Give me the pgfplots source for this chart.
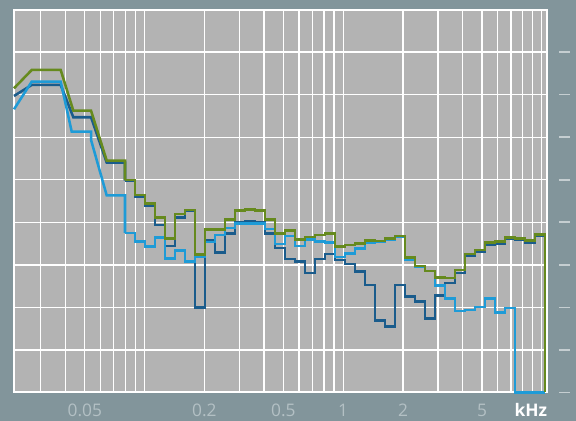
\documentclass[border=0pt]{standalone}
\usepackage{pgfplots}
\pgfplotsset{compat=1.18}
\usepackage{pgfplotstable}
\usepackage{fontspec}
\setmainfont{Open Sans}
\definecolor{outerbg}{HTML}{82959B}
\definecolor{plotbg}{HTML}{B3B3B3}
\definecolor{cgreen}{HTML}{668A1E}
\definecolor{cdblue}{HTML}{1A5C8C}
\definecolor{clblue}{HTML}{1E9BD7}
\definecolor{ticktext}{HTML}{B3C0C4}
\definecolor{dashcol}{HTML}{C5CED1}

% step part: 1/6-octave bands, value holds from f to next f
\pgfplotstableread{
f        green  dblue  lblue
0.07973  49.94  49.78  37.49
0.08953  46.42  46.02  35.44
0.10054  44.47  43.90  34.27
0.11290  41.08  39.37  36.48
0.12678  36.24  34.43  31.54
0.14236  41.95  41.18  33.42
0.15986  42.94  42.77  30.79
0.17951  32.48  20.02  31.96
0.20158  38.36  35.84  35.32
0.22636  38.36  32.86  37.02
0.25419  40.71  37.42  38.66
0.28543  42.73  40.07  39.77
0.32052  43.06  40.31  39.77
0.35992  42.73  40.00  39.77
0.40416  40.71  37.42  38.47
0.45384  37.42  33.96  34.90
0.50963  38.03  31.38  36.78
0.57228  36.00  30.74  34.43
0.64263  36.55  28.08  35.93
0.72163  37.02  31.38  35.44
0.81034  37.42  32.55  35.30
0.90995  34.36  31.14  31.85
1.02181  34.67  30.15  32.71
1.14742  35.06  28.39  33.82
1.28847  35.68  25.26  35.21
1.44686  35.61  16.92  35.44
1.62472  36.19  15.46  35.93
1.82444  36.78  25.26  36.55
2.04871  31.73  22.51  31.30
2.30055  29.73  21.39  29.50
2.58335  28.56  17.39  28.56
2.90092  27.07  22.80  25.10
3.25752  26.91  25.73  22.14
3.65796  28.79  28.08  19.15
4.10762  32.55  32.20  19.39
4.61256  33.49  33.10  20.09
5.17958  35.21  34.80  22.07
5.81629  35.44  35.00  18.75
6.53127  36.48  36.10  19.86
7.33414  36.24  35.80  0
8.23572  35.68  35.30  0
9.24813  37.18  36.80  0
10.38497 0      0      0
}\steps

\pgfplotstableread{
f        v
0.02201  71.49
0.02703  75.79
0.03783  75.79
0.04378  66.23
0.05377  66.23
0.06449  54.48
0.07973  54.48
0.07973  49.94
}\lowgreen

\pgfplotstableread{
f        v
0.02201  69.68
0.02703  72.27
0.03783  72.27
0.04378  64.68
0.05377  64.68
0.06449  54.01
0.07973  54.01
0.07973  49.78
}\lowdblue

\pgfplotstableread{
f        v
0.02201  66.56
0.02703  73.04
0.03783  73.04
0.04297  61.29
0.05377  61.29
0.05377  59.34
0.06449  46.30
0.07973  46.30
0.07973  37.49
}\lowlblue

\begin{document}
\begin{tikzpicture}
\fill[outerbg] (-10.5pt,-21.375pt) rectangle (421.5pt,294.375pt);
\begin{axis}[
  at={(0,0)}, anchor=south west,
  scale only axis, width=400pt, height=287.25pt,
  xmode=log, log basis x=10,
  xmin=0.02201, xmax=10.66, ymin=0, ymax=90,
  axis background/.style={fill=plotbg},
  axis line style={white, line width=1.5pt},
  grid=major, major grid style={white, line width=1pt},
  xtick={0.03,0.04,0.05,0.06,0.07,0.08,0.09,0.1,0.2,0.3,0.4,0.5,0.6,0.7,0.8,0.9,1,2,3,4,5,6,7,8,9,10},
  xticklabels={,,0.05,,,,,,0.2,,,0.5,,,,,1,2,,,5,,,,,},
  ytick={10,20,30,40,50,60,70,80},
  yticklabels={},
  major tick length=0pt, minor tick length=0pt,
  xticklabel style={anchor=base, yshift=-18.15pt, text=ticktext, font=\fontsize{13}{15}\selectfont},
  clip=false,
]
\addplot[cdblue, line width=1.9pt, line join=miter] table[x=f, y=v] {\lowdblue};
\addplot[cdblue, line width=1.9pt, const plot mark left, line join=miter] table[x=f, y=dblue] {\steps};
\addplot[clblue, line width=1.9pt, line join=miter] table[x=f, y=v] {\lowlblue};
\addplot[clblue, line width=1.9pt, const plot mark left, line join=miter] table[x=f, y=lblue] {\steps};
\addplot[cgreen, line width=1.9pt, line join=miter] table[x=f, y=v] {\lowgreen};
\addplot[cgreen, line width=1.9pt, const plot mark left, line join=miter] table[x=f, y=green] {\steps};
\end{axis}
\foreach \i in {0,...,8} \draw[dashcol, line width=1.2pt] (408.75pt,\i*31.9167pt) -- (417pt,\i*31.9167pt);
\node[anchor=base east, text=white, inner sep=0pt, font=\fontsize{13}{15}\selectfont\bfseries] at (400pt,-18.15pt) {kHz};
\pgfresetboundingbox
\useasboundingbox (-10.5pt,-21.375pt) rectangle (421.5pt,294.375pt);
\end{tikzpicture}
\end{document}
